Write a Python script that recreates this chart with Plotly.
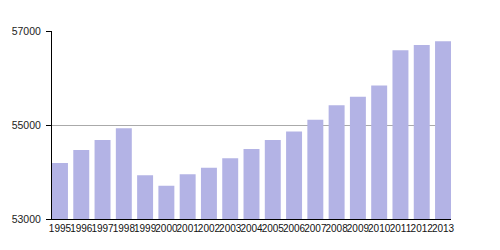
import plotly.graph_objects as go

years = ["1995", "1996", "1997", "1998", "1999", "2000", "2001", "2002", "2003", "2004",
         "2005", "2006", "2007", "2008", "2009", "2010", "2011", "2012", "2013"]
values = [54190, 54470, 54680, 54930, 53930, 53710, 53950, 54090, 54290, 54490,
          54680, 54860, 55110, 55420, 55600, 55840, 56590, 56700, 56780]
y_ticks = [53000, 55000, 57000]

fig = go.Figure(go.Bar(
    x=years, y=values, width=0.75,
    marker=dict(color="rgb(179,179,229)", line=dict(width=0)),
))

fig.update_layout(
    width=500, height=250,
    margin=dict(l=50, r=49, t=31, b=31),
    paper_bgcolor="white", plot_bgcolor="white",
    showlegend=False,
    font=dict(family="Liberation Sans, Arial, sans-serif", color="#222"),
)
fig.update_xaxes(
    type="category", range=[-0.375, 18.375],
    showline=True, linecolor="black", linewidth=1,
    showgrid=False, ticks="", tickfont=dict(size=10, color="#111"),
    tickangle=0, ticklabelstandoff=0,
)
fig.update_yaxes(
    range=[53000, 57000], tickvals=y_ticks, ticktext=[str(v) for v in y_ticks],
    showline=True, linecolor="black", linewidth=1,
    showgrid=True, gridcolor="#aaaaaa", gridwidth=1,
    ticks="outside", ticklen=5, tickcolor="black",
    tickfont=dict(size=10.5, color="#222"), ticklabelstandoff=3,
    zeroline=False,
)

fig.write_html("out.html")
